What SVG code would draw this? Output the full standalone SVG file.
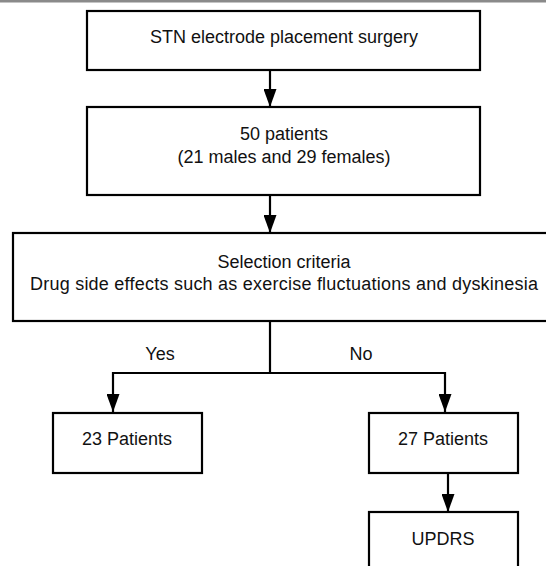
<svg xmlns="http://www.w3.org/2000/svg" width="546" height="566" viewBox="0 0 546 566">
<defs>
<marker id="ah" markerUnits="userSpaceOnUse" markerWidth="18" markerHeight="13" refX="18" refY="6.5" orient="auto">
<path d="M0,0 L18,6.5 L0,13 Z" fill="#000"/>
</marker>
<style>
.box{fill:#fff;stroke:#000;stroke-width:2.2}
.t{font-family:"Liberation Sans",Arial,sans-serif;font-size:18px;fill:#111;text-anchor:middle}
.c{fill:none;stroke:#000;stroke-width:2.2}
</style>
</defs>
<rect x="0" y="0" width="546" height="566" fill="#fff"/>
<rect x="0" y="0" width="546" height="2.5" fill="#8a8a8a"/>
<g id="n1">
<rect class="box" x="87" y="11" width="393" height="59"/>
<text class="t" x="284" y="43">STN electrode placement surgery</text>
</g>
<g id="n2">
<rect class="box" x="87" y="107" width="393" height="88"/>
<text class="t" x="284" y="140">50 patients</text>
<text class="t" x="284" y="163">(21 males and 29 females)</text>
</g>
<g id="n3">
<rect class="box" x="13" y="233" width="545" height="88"/>
<text class="t" x="284" y="268">Selection criteria</text>
<text class="t" x="284" y="290" textLength="508" lengthAdjust="spacing">Drug side effects such as exercise fluctuations and dyskinesia</text>
</g>
<g id="n4">
<rect class="box" x="53" y="413" width="149" height="60"/>
<text class="t" x="127" y="445">23 Patients</text>
</g>
<g id="n5">
<rect class="box" x="369" y="413" width="149" height="60"/>
<text class="t" x="443" y="445">27 Patients</text>
</g>
<g id="n6">
<rect class="box" x="369" y="512" width="149" height="70"/>
<text class="t" x="443" y="545">UPDRS</text>
</g>
<g id="connectors">
<line class="c" x1="270" y1="70" x2="270" y2="107" marker-end="url(#ah)"/>
<line class="c" x1="270" y1="195" x2="270" y2="233" marker-end="url(#ah)"/>
<polyline class="c" points="270,321 270,373"/>
<polyline class="c" points="113,373 445,373"/>
<line class="c" x1="113" y1="372" x2="113" y2="412" marker-end="url(#ah)"/>
<line class="c" x1="445" y1="372" x2="445" y2="412" marker-end="url(#ah)"/>
<line class="c" x1="448" y1="473" x2="448" y2="512" marker-end="url(#ah)"/>
<text class="t" x="160" y="360">Yes</text>
<text class="t" x="361" y="360">No</text>
</g>
</svg>
